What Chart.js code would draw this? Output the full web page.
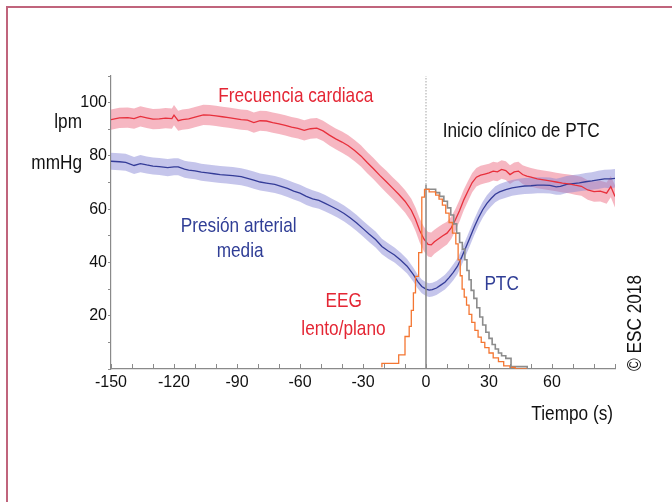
<!DOCTYPE html>
<html>
<head>
<meta charset="utf-8">
<script src="https://cdn.jsdelivr.net/npm/chart.js@4.4.1/dist/chart.umd.min.js"></script>
<style>
    html, body { margin: 0; padding: 0; background: #fff; }
    #wrap { position: relative; width: 672px; height: 502px; overflow: hidden; }
    #frame {
        position: absolute; left: 6px; top: 6px; right: -10px; bottom: -10px;
        border-top: 2px solid #c0647c; border-left: 2px solid #c0647c;
    }
    canvas { position: absolute; left: 0; top: 0; }
</style>
</head>
<body>
<div id="wrap">
    <canvas id="chart" width="672" height="502"></canvas>
    <div id="frame"></div>
</div>
<script>
/**
 * Heart rate / MAP around the onset of TLOC, with EEG and TLOC histograms
 */

// Tick labels shown on the axes
const xTickLabels = [-150, -120, -90, -60, -30, 0, 30, 60];
const yTickLabels = [20, 40, 60, 80, 100];

// Heart rate (lpm): mean line and half-width of the shaded band
const hrTime = [
    -150, -146, -142, -139, -136, -133, -130, -127, -124, -121,
    -120, -118, -116, -113, -110, -106, -103, -100, -97, -94,
    -91, -88, -85, -82, -79, -76, -73, -70, -67, -64,
    -61, -58, -55, -52, -49, -46, -43, -40, -37, -34,
    -31, -28, -25, -22, -19, -16, -13, -10, -7, -5,
    -3, -1, 1, 2.5, 4, 6, 8, 10, 12, 14,
    16, 18, 20, 22, 24, 26, 28, 30, 32, 34,
    36, 38, 40, 42, 44, 46, 48, 50, 53, 56,
    59, 62, 65, 68, 71, 74, 77, 80, 83, 86,
    88, 90
];
const hrMean = [
    93.6, 94.3, 94.4, 94.0, 94.8, 94.3, 93.8, 93.9, 94.2, 94.0,
    95.3, 93.2, 93.6, 93.9, 94.6, 95.4, 95.3, 95.0, 94.7, 94.4,
    94.0, 93.6, 93.4, 92.5, 93.2, 93.1, 92.5, 92.0, 91.5, 90.8,
    90.3, 89.6, 90.2, 90.4, 89.4, 87.8, 86.4, 85.2, 83.8, 82.0,
    80.0, 77.5, 75.2, 72.7, 70.4, 68.0, 65.6, 63.0, 59.6, 56.2,
    52.0, 48.8, 46.8, 46.6, 47.8, 48.9, 50.0, 51.0, 53.0, 56.0,
    59.5, 63.5, 66.8, 70.0, 72.0, 72.8, 73.2, 73.6, 74.3, 74.0,
    74.9, 74.5, 73.0, 74.0, 74.3, 73.0, 72.4, 72.0, 71.4, 71.0,
    70.6, 70.2, 69.8, 69.5, 69.0, 68.6, 67.2, 66.6, 66.8, 66.0,
    68.5, 64.8
];
const hrSpread = [
    3.8, 3.8, 3.8, 3.8, 3.8, 3.8, 3.8, 3.8, 3.8, 3.8,
    3.8, 3.8, 3.8, 3.8, 3.8, 3.8, 3.8, 3.8, 3.8, 3.8,
    3.8, 3.8, 3.8, 3.8, 3.8, 3.8, 3.8, 3.8, 3.8, 3.8,
    3.8, 3.8, 3.8, 3.8, 3.8, 3.9, 3.9, 4.0, 4.0, 4.0,
    4.0, 4.0, 4.0, 4.0, 4.1, 4.1, 4.2, 4.2, 4.3, 4.4,
    4.5, 4.6, 4.6, 4.6, 4.5, 4.5, 4.4, 4.3, 4.2, 4.1,
    4.0, 3.9, 3.8, 3.6, 3.5, 3.5, 3.5, 3.5, 3.5, 3.5,
    3.5, 3.5, 3.5, 3.5, 3.5, 3.5, 3.5, 3.5, 3.5, 3.5,
    3.5, 3.5, 3.5, 3.5, 3.6, 3.6, 3.7, 3.8, 3.9, 4.0,
    4.0, 4.2
];

// Mean arterial pressure (mmHg): mean line and band half-width
const mapTime = [
    -150, -146, -143, -139, -136, -133, -130, -127, -123, -120,
    -118, -115, -113, -110, -107, -104, -101, -98, -95, -92,
    -88, -85, -82, -79, -76, -72, -69, -66, -63, -60,
    -57, -54, -51, -48, -45, -42, -39, -36, -33, -30,
    -27, -24, -21, -18, -15, -12, -9, -6, -4, -2,
    0, 1.5, 3, 5, 7, 9, 11, 13, 15, 17,
    19, 21, 23, 25, 27, 29, 31, 33, 35, 38,
    41, 44, 47, 50, 53, 56, 59, 62, 64, 67,
    70, 73, 76, 79, 82, 85, 88, 90
];
const mapMean = [
    78.0, 77.8, 77.6, 76.4, 77.1, 76.6, 76.2, 76.0, 75.6, 75.9,
    75.9, 75.0, 74.7, 74.4, 73.9, 73.6, 73.3, 73.0, 72.8, 72.6,
    72.2, 71.6, 70.9, 70.2, 69.8, 69.3, 68.6, 67.8, 66.8, 66.0,
    64.8, 63.9, 63.3, 62.2, 61.0, 59.8, 58.4, 56.7, 54.8, 52.7,
    50.6, 48.6, 46.0, 44.3, 42.8, 40.8, 38.6, 35.4, 32.9, 31.0,
    30.0, 29.6, 29.8, 30.4, 31.5, 32.6, 34.3, 36.3, 38.6, 42.0,
    45.7, 49.5, 53.3, 56.8, 59.8, 62.2, 64.0, 65.6, 66.5, 67.3,
    68.0, 68.4, 68.7, 68.8, 69.0, 69.0, 68.9, 68.4, 68.6, 69.3,
    69.6, 69.9, 70.3, 70.6, 71.0, 71.4, 71.4, 71.6
];
const mapSpread = [
    3.2, 3.2, 3.2, 3.2, 3.2, 3.2, 3.2, 3.2, 3.2, 3.2,
    3.2, 3.2, 3.2, 3.2, 3.2, 3.2, 3.2, 3.2, 3.2, 3.2,
    3.2, 3.2, 3.2, 3.2, 3.2, 3.2, 3.2, 3.2, 3.2, 3.2,
    3.2, 3.2, 3.1, 3.1, 3.0, 3.0, 3.0, 3.0, 3.0, 3.0,
    3.0, 3.0, 2.9, 2.9, 2.8, 2.8, 2.7, 2.6, 2.6, 2.6,
    2.6, 2.6, 2.6, 2.6, 2.7, 2.8, 2.9, 3.0, 3.0, 3.0,
    3.0, 3.0, 3.0, 3.0, 3.0, 3.0, 3.0, 3.0, 3.0, 3.0,
    3.0, 3.0, 3.0, 3.0, 3.0, 3.0, 3.0, 3.0, 3.2, 3.2,
    3.2, 3.2, 3.3, 3.3, 3.4, 3.4, 3.5, 3.5
];

// Slow/flat EEG histogram (step edges in s, height)
const eegEdges = [
    -21, -13, -10, -8, -7, -6, -5, -3.5, -2, -0.7,
    1.5, 4.6, 6.2, 7.8, 9.4, 11, 12.6, 14.2, 15.3, 16.3,
    17.2, 18.2, 19.3, 20.5, 21.8, 23.3, 24.8, 26.3, 28, 30,
    32, 34.5, 37, 40, 42.5, 48
];
const eegValues = [
    0.7, 2.1, 5.3, 12.2, 16, 22, 28.6, 34.8, 43.7, 64.5,
    67.4, 66.5, 65.3, 63.8, 61.5, 58.5, 55, 51, 47, 41,
    35, 30, 27, 24, 20.5, 17.5, 14.5, 12, 10, 8,
    6, 4.2, 2.8, 1.2, 0.6, 0
];

// Clinical TLOC histogram (step edges in s, height)
const ptcEdges = [
    0, 0, 4.6, 6.5, 8.5, 10.2, 11.8, 13.2, 14.6, 16,
    17.3, 18.5, 19.5, 20.5, 21.5, 22.8, 24.2, 25.6, 27, 28.5,
    30, 31.5, 33, 34.5, 36, 38, 40.5, 48.2, 56
];
const ptcValues = [
    0, 69.3, 67.5, 66.2, 64.8, 63.0, 60.5, 57.8, 54.5, 51,
    47.5, 45, 41, 37, 33.5, 29.5, 26.5, 23, 19.5, 16.5,
    13.8, 11.5, 9.2, 7.5, 6.0, 5.0, 4.0, 0.9, 0
];

const RED = 'rgb(228, 38, 52)';
const BLUE = 'rgb(48, 62, 150)';
const FONT = "'Liberation Sans', Arial, sans-serif";

// Annotation labels placed in data coordinates (time, value of text centre)
const notes = [
    { text: 'Frecuencia cardiaca', t: -62, v: 103.2, color: RED },
    { text: 'Inicio clínico de PTC', t: 45.3, v: 89.8, color: '#111' },
    { text: 'Presión arterial', t: -89.2, v: 54.2, color: BLUE },
    { text: 'media', t: -88.5, v: 44.8, color: BLUE },
    { text: 'EEG', t: -39.2, v: 26, color: RED },
    { text: 'lento/plano', t: -39.3, v: 15.7, color: RED },
    { text: 'PTC', t: 36, v: 32.3, color: BLUE }
];

function toPoints(xs, ys) {
    return xs.map((x, i) => ({ x: x, y: ys[i] }));
}

function bandPoints(xs, ys, spread, sign) {
    return xs.map((x, i) => ({ x: x, y: ys[i] + sign * spread[i] }));
}

/**
 * Draw condensed text: regular face squeezed horizontally.
 * y is the vertical centre of the capitals.
 */
function narrowText(ctx, text, x, y, align) {
    ctx.save();
    ctx.translate(x, y + 7.5);
    ctx.scale(0.82, 1);
    ctx.textAlign = align;
    ctx.textBaseline = 'alphabetic';
    ctx.fillText(text, 0, 0);
    ctx.restore();
}

/**
 * Extra drawing: dotted onset line, inward x ticks and all text labels
 */
const decorPlugin = {
    id: 'decor',
    afterDraw(chart) {
        const ctx = chart.ctx;
        const xs = chart.scales.x;
        const ys = chart.scales.y;
        const area = chart.chartArea;

        ctx.save();

        // dotted line above the TLOC histogram at t = 0
        ctx.strokeStyle = '#b4b4b4';
        ctx.lineWidth = 1.2;
        ctx.setLineDash([1.5, 1.5]);
        ctx.beginPath();
        ctx.moveTo(xs.getPixelForValue(0), ys.getPixelForValue(ptcValues[1]));
        ctx.lineTo(xs.getPixelForValue(0), area.top);
        ctx.stroke();
        ctx.setLineDash([]);

        // x tick marks pointing into the plot
        ctx.strokeStyle = '#8a8a8a';
        ctx.lineWidth = 1;
        xs.ticks.forEach(tick => {
            const px = Math.round(xs.getPixelForValue(tick.value)) + 0.5;
            ctx.beginPath();
            ctx.moveTo(px, area.bottom);
            ctx.lineTo(px, area.bottom - 5);
            ctx.stroke();
        });

        ctx.font = '21px ' + FONT;

        notes.forEach(n => {
            ctx.fillStyle = n.color;
            narrowText(ctx, n.text, xs.getPixelForValue(n.t), ys.getPixelForValue(n.v), 'center');
        });

        // axis names
        ctx.fillStyle = '#111';
        narrowText(ctx, 'lpm', area.left - 29, 120, 'right');
        narrowText(ctx, 'mmHg', area.left - 29, 161, 'right');
        narrowText(ctx, 'Tiempo (s)', area.right - 2, 412, 'right');

        // copyright, rotated
        ctx.translate(633, 323);
        ctx.rotate(-Math.PI / 2);
        narrowText(ctx, '© ESC 2018', 0, 0, 'center');

        ctx.restore();
    }
};

function renderChart() {
    const canvas = document.getElementById('chart');
    const ctx = canvas.getContext('2d');

    const config = {
        type: 'line',
        data: {
            datasets: [
                {
                    label: 'FC inferior',
                    data: bandPoints(hrTime, hrMean, hrSpread, -1),
                    borderWidth: 0,
                    pointRadius: 0,
                    fill: false,
                    order: 5
                },
                {
                    label: 'FC superior',
                    data: bandPoints(hrTime, hrMean, hrSpread, 1),
                    borderWidth: 0,
                    pointRadius: 0,
                    backgroundColor: 'rgba(238, 112, 134, 0.5)',
                    fill: '-1',
                    order: 5
                },
                {
                    label: 'PAM inferior',
                    data: bandPoints(mapTime, mapMean, mapSpread, -1),
                    borderWidth: 0,
                    pointRadius: 0,
                    fill: false,
                    order: 4
                },
                {
                    label: 'PAM superior',
                    data: bandPoints(mapTime, mapMean, mapSpread, 1),
                    borderWidth: 0,
                    pointRadius: 0,
                    backgroundColor: 'rgba(134, 134, 214, 0.48)',
                    fill: '-1',
                    order: 4
                },
                {
                    label: 'Frecuencia cardiaca',
                    data: toPoints(hrTime, hrMean),
                    borderColor: 'rgb(232, 48, 60)',
                    borderWidth: 1.3,
                    pointRadius: 0,
                    fill: false,
                    order: 2
                },
                {
                    label: 'Presión arterial media',
                    data: toPoints(mapTime, mapMean),
                    borderColor: 'rgb(52, 60, 152)',
                    borderWidth: 1.3,
                    pointRadius: 0,
                    fill: false,
                    order: 2
                },
                {
                    label: 'EEG lento/plano',
                    data: toPoints(eegEdges, eegValues),
                    borderColor: 'rgb(244, 118, 50)',
                    borderWidth: 1.3,
                    pointRadius: 0,
                    stepped: 'after',
                    fill: false,
                    order: 1
                },
                {
                    label: 'PTC',
                    data: toPoints(ptcEdges, ptcValues),
                    borderColor: 'rgb(140, 140, 140)',
                    borderWidth: 1.6,
                    pointRadius: 0,
                    stepped: 'after',
                    fill: false,
                    order: 1
                }
            ]
        },
        options: {
            responsive: false,
            animation: false,
            layout: {
                padding: { top: 76, right: 57, left: 0, bottom: 0 }
            },
            plugins: {
                legend: { display: false },
                tooltip: { enabled: false }
            },
            scales: {
                x: {
                    type: 'linear',
                    min: -150,
                    max: 90,
                    border: { color: '#8a8a8a', width: 1.2 },
                    grid: { drawOnChartArea: false, drawTicks: false },
                    ticks: {
                        stepSize: 10,
                        autoSkip: false,
                        maxRotation: 0,
                        padding: 4,
                        color: '#111',
                        font: { family: FONT, size: 16 },
                        callback: value => xTickLabels.includes(value) ? String(value) : ''
                    },
                    afterFit: scale => { scale.height = 133; }
                },
                y: {
                    min: 0,
                    max: 110,
                    border: { color: '#8a8a8a', width: 1.2 },
                    grid: { drawOnChartArea: false, tickLength: 3, color: '#8a8a8a' },
                    ticks: {
                        stepSize: 10,
                        autoSkip: false,
                        padding: 1,
                        color: '#111',
                        font: { family: FONT, size: 16 },
                        callback: value => yTickLabels.includes(value) ? String(value) : ''
                    },
                    afterFit: scale => { scale.width = 111; }
                }
            }
        },
        plugins: [decorPlugin]
    };

    new Chart(ctx, config);
}

document.addEventListener('DOMContentLoaded', renderChart);
</script>
</body>
</html>
